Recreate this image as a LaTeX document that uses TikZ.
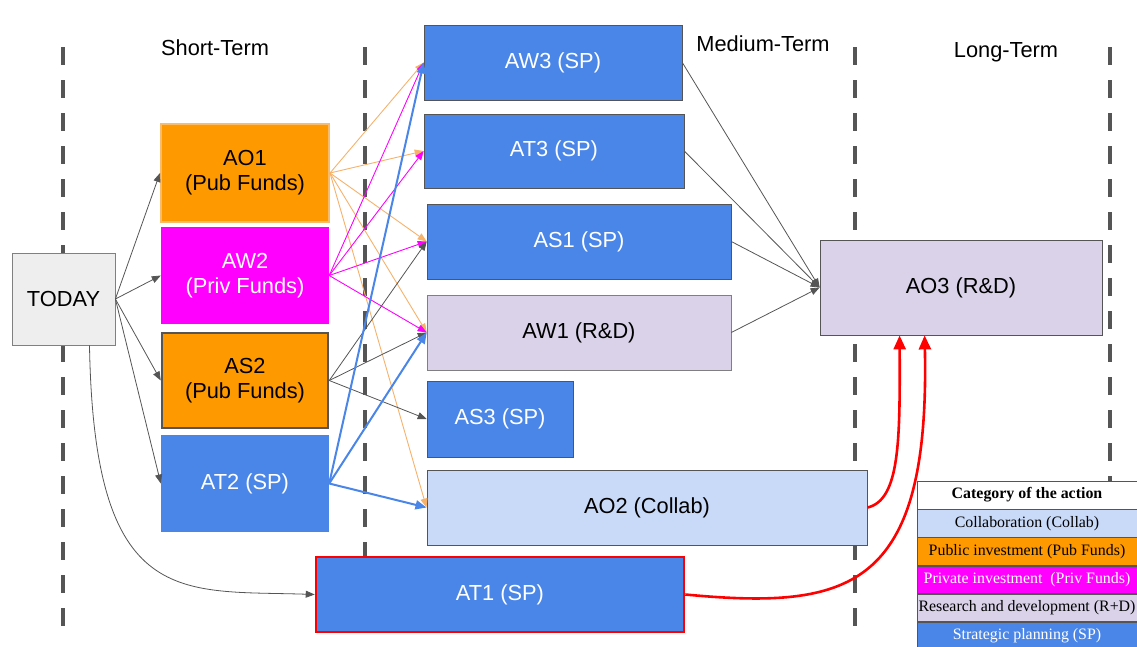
\documentclass[tikz,border=0pt]{standalone}
\usepackage{fontspec}
\setmainfont{Liberation Serif}
\setsansfont{Liberation Sans}
\usetikzlibrary{arrows.meta,positioning}

\definecolor{pubcol}{HTML}{FF9900}
\definecolor{pubedge}{HTML}{F9BC6B}
\definecolor{privcol}{HTML}{FF00FF}
\definecolor{spcol}{HTML}{4A86E8}
\definecolor{rdcol}{HTML}{D9D2E9}
\definecolor{collabcol}{HTML}{C9DAF8}
\definecolor{todaycol}{HTML}{EEEEEE}
\definecolor{linecol}{HTML}{555555}
\definecolor{orangeline}{HTML}{F6B26B}

\begin{document}
\begin{tikzpicture}[x=1pt,y=-1pt,
    box/.style={rectangle, inner sep=0pt, align=center,
        font=\sffamily\fontsize{21.8}{25}\selectfont},
    legrow/.style={rectangle, inner sep=0pt, minimum width=220pt,
        minimum height=27.6pt, draw=linecol, line width=0.6pt,
        font=\fontsize{15.9}{18}\selectfont},
    timeline/.style={linecol, line width=4pt, dash pattern=on 18pt off 15pt},
    gline/.style={linecol, line width=0.8pt, -{Triangle[length=9pt,width=7pt]}},
    oline/.style={orangeline, line width=0.9pt, -{Triangle[length=9pt,width=7pt]}},
    mline/.style={privcol, line width=0.9pt, -{Triangle[length=9pt,width=7pt]}},
    bline/.style={spcol, line width=2pt, -{Triangle[length=11pt,width=9pt]}},
    rline/.style={red, line width=2.6pt, -{Triangle[length=14pt,width=12pt]}}]
    \useasboundingbox (0,0) rectangle (1137,646);

    % Time lines
    \draw[timeline] (63,47) -- (63,630);
    \draw[timeline] (365,47) -- (365,625);
    \draw[timeline] (855,47) -- (855,630);
    \draw[timeline] (1110,47) -- (1110,482);

    % Headings
    \node[box, anchor=base] (short) at (215,55) {Short-Term};
    \node[box, anchor=base] (medium) at (763,51) {Medium-Term};
    \node[box, anchor=base] (long) at (1006,57) {Long-Term};

    % Start
    \node[box, fill=todaycol, draw=gray, line width=0.8pt,
        minimum width=103pt, minimum height=92pt] (TODAY) at (63.5,299) {TODAY};

    % Short-term actions
    \node[box, fill=pubcol, draw=pubedge, line width=2pt,
        minimum width=168pt, minimum height=98pt] (AO1) at (245,173) {AO1\\(Pub Funds)};
    \node[box, fill=privcol, text=white,
        minimum width=168pt, minimum height=97pt] (AW2) at (245,275.5) {AW2\\(Priv Funds)};
    \node[box, fill=pubcol, draw=linecol, line width=2.5pt,
        minimum width=166pt, minimum height=95pt] (AS2) at (245,380.5) {AS2\\(Pub Funds)};
    \node[box, fill=spcol, text=white,
        minimum width=168pt, minimum height=97pt] (AT2) at (245,483.5) {AT2 (SP)};

    % Medium-term actions
    \node[box, fill=spcol, text=white, draw=linecol, line width=0.6pt,
        minimum width=258pt, minimum height=75pt] (AW3) at (553,62.5) {AW3 (SP)};
    \node[box, fill=spcol, text=white, draw=linecol, line width=0.6pt,
        minimum width=260pt, minimum height=74pt] (AT3) at (554,151) {AT3 (SP)};
    \node[box, fill=spcol, text=white, draw=linecol, line width=0.6pt,
        minimum width=304pt, minimum height=75pt] (AS1) at (579,241.5) {AS1 (SP)};
    \node[box, fill=rdcol, draw=gray, line width=0.6pt,
        minimum width=304pt, minimum height=75pt] (AW1) at (579,332.5) {AW1 (R\&D)};
    \node[box, fill=spcol, text=white, draw=linecol, line width=0.6pt,
        minimum width=146pt, minimum height=76pt] (AS3) at (500,419) {AS3 (SP)};
    \node[box, fill=collabcol, draw=linecol, line width=1pt,
        minimum width=440pt, minimum height=75pt] (AO2) at (647,507.5) {AO2 (Collab)};
    \node[box, fill=spcol, text=white, draw=red, line width=2.6pt,
        minimum width=368pt, minimum height=75pt] (AT1) at (500,594.5) {AT1 (SP)};

    % Long-term action
    \node[box, fill=rdcol, draw=linecol, line width=0.8pt,
        minimum width=282pt, minimum height=95pt] (AO3) at (961,287.5) {AO3 (R\&D)};

    % From today
    \draw[gline] (TODAY.east) -- (AO1.west);
    \draw[gline] (TODAY.east) -- (AW2.west);
    \draw[gline] (TODAY.east) -- (AS2.west);
    \draw[gline] (TODAY.east) -- (AT2.west);
    \draw[gline] ([xshift=26pt]TODAY.south) .. controls (94,610) and (180,590) .. (AT1.west);

    % Short to medium
    \draw[oline] (AO1.east) -- (AW3.west);
    \draw[oline] (AO1.east) -- (AT3.west);
    \draw[oline] (AO1.east) -- (AS1.west);
    \draw[oline] (AO1.east) -- (AW1.west);
    \draw[oline] (AO1.east) -- (AO2.west);
    \draw[mline] (AW2.east) -- (AW3.west);
    \draw[mline] (AW2.east) -- (AT3.west);
    \draw[mline] (AW2.east) -- (AS1.west);
    \draw[mline] (AW2.east) -- (AW1.west);
    \draw[gline] (AS2.east) -- (AS1.west);
    \draw[gline] (AS2.east) -- (AW1.west);
    \draw[gline] (AS2.east) -- (AS3.west);
    \draw[bline] (AT2.east) -- (AW3.west);
    \draw[bline] (AT2.east) -- (AW1.west);
    \draw[bline] (AT2.east) -- (AO2.west);

    % Medium to long
    \draw[gline] (AW3.east) -- (AO3.west);
    \draw[gline] (AT3.east) -- (AO3.west);
    \draw[gline] (AS1.east) -- (AO3.west);
    \draw[gline] (AW1.east) -- (AO3.west);
    \draw[rline] (AO2.east) .. controls (900,500) and (900,440) .. ([xshift=80pt]AO3.south west);
    \draw[rline] (AT1.east) .. controls (850,610) and (930,590) .. ([xshift=105pt]AO3.south west);

    % Legend
    \node[legrow, fill=white, font=\bfseries\fontsize{15.9}{18}\selectfont] (cat) at (1027,495) {Category of the action};
    \node[legrow, fill=collabcol, below=0pt of cat] (catcollab) {Collaboration (Collab)};
    \node[legrow, fill=pubcol, below=0pt of catcollab] (catpub) {Public investment (Pub Funds)};
    \node[legrow, fill=privcol, text=white, below=0pt of catpub] (catpriv) {Private investment \ (Priv Funds)};
    \node[legrow, fill=rdcol, below=0pt of catpriv] (catrd) {Research and development (R+D)};
    \node[legrow, fill=spcol, text=white, below=0pt of catrd] (catsp) {Strategic planning (SP)};
\end{tikzpicture}
\end{document}
